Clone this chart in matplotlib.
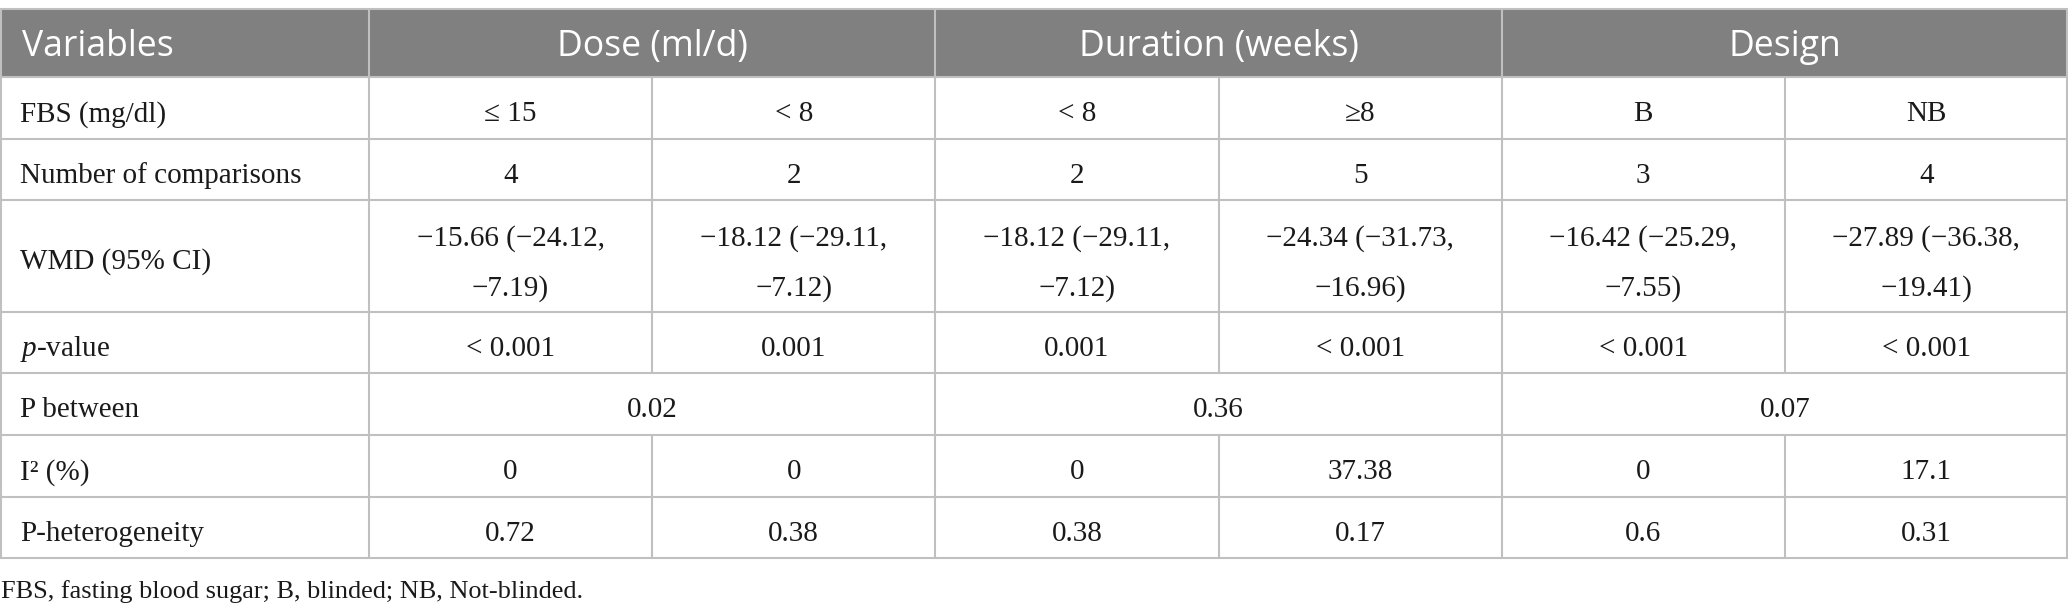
import matplotlib
matplotlib.use("Agg")
import matplotlib.pyplot as plt
from matplotlib.patches import Rectangle

# ---- data ----
group_labels = ["Dose (ml/d)", "Duration (weeks)", "Design"]
row_labels = ["FBS (mg/dl)", "Number of comparisons", "WMD (95% CI)",
              "p-value", "P between", "I² (%)", "P-heterogeneity"]
subgroups = ["≤ 15", "< 8", "< 8", "≥8", "B", "NB"]
n_comparisons = [4, 2, 2, 5, 3, 4]
wmd = [-15.66, -18.12, -18.12, -24.34, -16.42, -27.89]
ci_low = [-24.12, -29.11, -29.11, -31.73, -25.29, -36.38]
ci_high = [-7.19, -7.12, -7.12, -16.96, -7.55, -19.41]
p_values = ["< 0.001", "0.001", "0.001", "< 0.001", "< 0.001", "< 0.001"]
p_between = ["0.02", "0.36", "0.07"]
i_squared = ["0", "0", "0", "37.38", "0", "17.1"]
p_heterogeneity = ["0.72", "0.38", "0.38", "0.17", "0.6", "0.31"]
footnote = "FBS, fasting blood sugar; B, blinded; NB, Not-blinded."

# ---- layout ----
W, H = 2068, 614
fig = plt.figure(figsize=(W / 100, H / 100), dpi=100)
ax = fig.add_axes([0, 0, 1, 1])
ax.set_xlim(0, W)
ax.set_ylim(H, 0)
ax.axis("off")

plt.rcParams["mathtext.fontset"] = "custom"
plt.rcParams["mathtext.rm"] = "Liberation Serif"
plt.rcParams["mathtext.it"] = "Liberation Serif:italic"

serif = "Liberation Serif"
sans = "Open Sans"
body_fs = 21.0
head_fs = 25.6
foot_fs = 18.9
txt_c = "#1a1a1a"

col_x = [0] + [369 + i * (W - 369) / 6 for i in range(7)]
row_y = [9, 77, 139, 200, 312, 373, 435, 497, 558]
grid_c = "#c0c0c0"
head_c = "#808080"
lw = 1.5

# header fill
ax.add_patch(Rectangle((0, row_y[0]), W, row_y[1] - row_y[0], color=head_c, lw=0, zorder=1))

def vline(x, y0, y1):
    ax.plot([x, x], [y0, y1], color=grid_c, lw=lw, zorder=3, solid_capstyle="butt")

# horizontal lines
for y in row_y:
    ax.plot([0, W], [y, y], color=grid_c, lw=lw, zorder=3, solid_capstyle="butt")
# vertical lines
for x in [0.7, col_x[1], col_x[3], col_x[5], W - 0.7]:
    vline(x, row_y[0], row_y[-1])
for x in [col_x[2], col_x[4], col_x[6]]:
    vline(x, row_y[1], row_y[5])   # rows up to p-value
    vline(x, row_y[6], row_y[-1])  # rows after P between

# header text
head_base = 56
ax.text(22, head_base, "Variables", family=sans, fontsize=head_fs, color="white",
        ha="left", va="baseline", zorder=4)
for g, lab in enumerate(group_labels):
    cx = (col_x[1 + 2 * g] + col_x[3 + 2 * g]) / 2
    ax.text(cx, head_base, lab, family=sans, fontsize=head_fs, color="white",
            ha="center", va="baseline", zorder=4)

cap_half = 9.7
def base(cap_center):
    return cap_center + cap_half

row_caps = [111.5, 173, 259, 346, 407.5, 469.5, 531]
label_texts = list(row_labels)
label_texts[3] = r"$\mathit{p}$-value"
for lab, yc in zip(label_texts, row_caps):
    ax.text(20, base(yc), lab, family=serif, fontsize=body_fs, color=txt_c,
            ha="left", va="baseline", zorder=4)

def minus(v):
    return f"{v:.2f}".replace("-", "−")

def cell(i, yc, s):
    cx = (col_x[1 + i] + col_x[2 + i]) / 2
    ax.text(cx, base(yc), s, family=serif, fontsize=body_fs, color=txt_c,
            ha="center", va="baseline", zorder=4)

for i in range(6):
    cell(i, row_caps[0], subgroups[i])
    cell(i, row_caps[1], str(n_comparisons[i]))
    cell(i, 235.5, f"{minus(wmd[i])} ({minus(ci_low[i])},")
    cell(i, 285.5, f"{minus(ci_high[i])})")
    cell(i, row_caps[3], p_values[i])
    cell(i, row_caps[5], i_squared[i])
    cell(i, row_caps[6], p_heterogeneity[i])
for g in range(3):
    cx = (col_x[1 + 2 * g] + col_x[3 + 2 * g]) / 2
    ax.text(cx, base(row_caps[4]), p_between[g], family=serif, fontsize=body_fs,
            color=txt_c, ha="center", va="baseline", zorder=4)

ax.text(1, 598, footnote, family=serif, fontsize=foot_fs, color=txt_c,
        ha="left", va="baseline", zorder=4)

fig.savefig("out.png", dpi=100)
